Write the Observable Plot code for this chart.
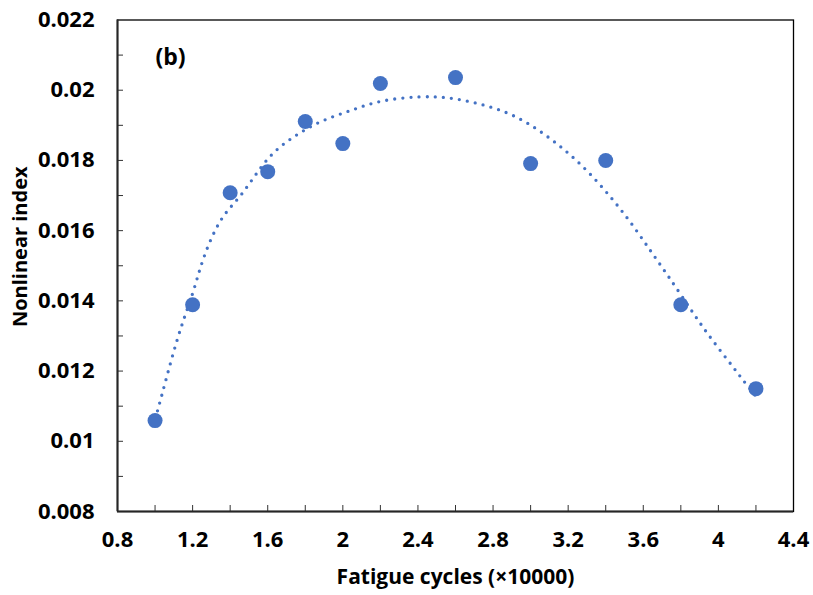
<!DOCTYPE html>
<html>
<head>
<meta charset="utf-8">
<script src="https://cdn.jsdelivr.net/npm/d3@7"></script>
<script src="https://cdn.jsdelivr.net/npm/@observablehq/plot@0.6"></script>
<style>
  html, body { margin: 0; padding: 0; background: #fff; }
  #chart { width: 813px; height: 595px; }
</style>
</head>
<body>
<div id="chart"></div>
<script>
// Data points: fatigue cycles (×10000) vs nonlinear index
const cycles = [1.0, 1.2, 1.4, 1.6, 1.8, 2.0, 2.2, 2.6, 3.0, 3.4, 3.8, 4.2];
const nonlinearIndex = [0.01059, 0.01389, 0.01708, 0.01768, 0.01911, 0.01848, 0.02019, 0.02036, 0.01791, 0.01800, 0.01389, 0.01150];

// Dotted trend line
const trendX = [1.0, 1.02, 1.114, 1.198, 1.26, 1.352, 1.464, 1.597, 1.736, 1.885, 2.041, 2.2, 2.408, 2.588, 2.754, 2.91, 3.058, 3.195, 3.319, 3.436, 3.541, 3.642, 3.741, 3.865, 3.967, 4.073, 4.126, 4.2];
const trendY = [0.01072, 0.01100, 0.01282, 0.01418, 0.01524, 0.01631, 0.01706, 0.01802, 0.01866, 0.01911, 0.01942, 0.01968, 0.01981, 0.01976, 0.01957, 0.01927, 0.01880, 0.01823, 0.01760, 0.01689, 0.01617, 0.01540, 0.01464, 0.01366, 0.01289, 0.01215, 0.01178, 0.01128];

// Axis ticks
const xTicks = [0.8, 1.2, 1.6, 2.0, 2.4, 2.8, 3.2, 3.6, 4.0, 4.4];
const xTickLabels = ["0.8", "1.2", "1.6", "2", "2.4", "2.8", "3.2", "3.6", "4", "4.4"];
const xMinorTicks = [1.0, 1.2, 1.4, 1.6, 1.8, 2.0, 2.2, 2.4, 2.6, 2.8, 3.0, 3.2, 3.4, 3.6, 3.8, 4.0, 4.2];
const yTicks = [0.008, 0.010, 0.012, 0.014, 0.016, 0.018, 0.020, 0.022];
const yTickLabels = ["0.008", "0.01", "0.012", "0.014", "0.016", "0.018", "0.02", "0.022"];
const yMinorTicks = [0.009, 0.010, 0.011, 0.012, 0.013, 0.014, 0.015, 0.016, 0.017, 0.018, 0.019, 0.020, 0.021];

const xTitle = "Fatigue cycles (×10000)";
const yTitle = "Nonlinear index";
const panelLabel = "(b)";

const points = cycles.map((x, i) => ({x, y: nonlinearIndex[i]}));
const trend = trendX.map((x, i) => ({x, y: trendY[i]}));

const W = 813, H = 595;
const mL = 117, mR = 20, mT = 19.5, mB = 84;
const plotW = W - mL - mR, plotH = H - mT - mB;
const blue = "#4472C4";
const font = "'Open Sans', 'Lato', sans-serif";

const chart = Plot.plot({
  width: W,
  height: H,
  marginLeft: mL,
  marginRight: mR,
  marginTop: mT,
  marginBottom: mB,
  style: {fontFamily: font, fontSize: "22px", fontWeight: "bold", color: "#000", background: "#fff"},
  x: {domain: [0.8, 4.4]},
  y: {domain: [0.008, 0.022]},
  marks: [
    Plot.frame({stroke: "#000", strokeWidth: 1.3}),
    Plot.axisX({ticks: xTicks, tickSize: 0, tickPadding: 20, fontSize: 22, tickFormat: (d) => xTickLabels[xTicks.findIndex(t => Math.abs(t - d) < 1e-9)], label: null, fontWeight: "bold", fill: "#000"}),
    Plot.axisY({ticks: yTicks, tickSize: 0, tickPadding: 23, fontSize: 22, tickFormat: (d) => yTickLabels[yTicks.findIndex(t => Math.abs(t - d) < 1e-9)], label: null, fontWeight: "bold", fill: "#000"}),
    Plot.tickX(xMinorTicks, {x: d => d, insetTop: plotH - 6, stroke: "#333", strokeWidth: 1}),
    Plot.tickY(yMinorTicks, {y: d => d, insetRight: plotW - 6, stroke: "#333", strokeWidth: 1}),
    Plot.ruleX([0.8], {stroke: "#262626", strokeWidth: 2}),
    Plot.ruleY([0.008], {stroke: "#262626", strokeWidth: 2}),
    Plot.line(trend, {x: "x", y: "y", curve: "natural", stroke: blue, strokeWidth: 3.3, strokeDasharray: "0,8.1", strokeLinecap: "round"}),
    Plot.dot(points, {x: "x", y: "y", r: 7.5, fill: blue, stroke: "none"}),
    Plot.text([panelLabel], {frameAnchor: "top-left", dx: 53, dy: 37.5, lineAnchor: "middle", text: d => d, fontSize: 23, fontWeight: "bold", fill: "#000", textAnchor: "middle"}),
    Plot.text([xTitle], {frameAnchor: "bottom", dy: 66, lineAnchor: "middle", text: d => d, fontSize: 21, fontWeight: "bold", fill: "#000", textAnchor: "middle"}),
    Plot.text([yTitle], {frameAnchor: "left", dx: -97, dy: -19, rotate: -90, lineAnchor: "middle", text: d => d, fontSize: 20, fontWeight: "bold", fill: "#000", textAnchor: "middle"})
  ]
});
document.getElementById("chart").appendChild(chart);
</script>
</body>
</html>
